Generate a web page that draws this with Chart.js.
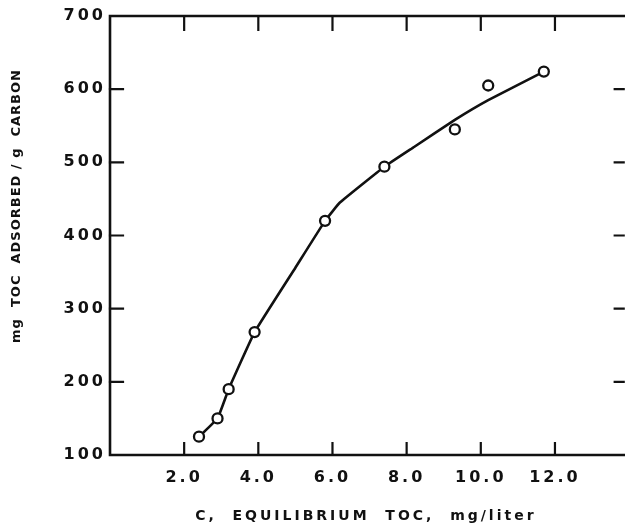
<!DOCTYPE html>
<html>
<head>
<meta charset="utf-8">
<script src="https://cdn.jsdelivr.net/npm/chart.js@4.4.1/dist/chart.umd.min.js"></script>
<style>
  html, body { margin: 0; padding: 0; background: #fff; overflow: hidden; }
  #wrap { width: 629px; height: 531px; }
</style>
</head>
<body>
<div id="wrap"><canvas id="isotherm"></canvas></div>
<script>
// Measured points: equilibrium TOC (mg/liter) vs TOC adsorbed (mg/g carbon)
const tocEquilibrium = [2.4, 2.9, 3.2, 3.9, 5.8, 7.4, 9.3, 10.2, 11.7];
const tocAdsorbed = [125, 150, 190, 268, 420, 494, 545, 605, 624];

// Hand-fitted curve through the points
const curveX = [2.4, 2.9, 3.2, 3.9, 5.0, 5.8, 6.2, 7.4, 8.2, 9.3, 10.2, 11.7];
const curveY = [125, 150, 190, 268, 356, 420, 445, 494, 521, 558, 585, 624];

// Axis ticks
const xTicks = [2, 4, 6, 8, 10, 12];
const yTicks = [100, 200, 300, 400, 500, 600, 700];

const ink = '#111';
const labelFont = { family: 'DejaVu Sans', size: 16, weight: 'bold' };

// Frame, inward tick marks and the rotated y title
const frame = {
    id: 'frame',
    beforeDraw(chart) {
        chart.ctx.letterSpacing = '3px';
    },
    afterDraw(chart) {
        const { ctx, chartArea: a, scales: { x, y } } = chart;
        ctx.save();
        ctx.strokeStyle = ink;
        ctx.lineCap = 'square';
        ctx.lineWidth = 2.6;
        ctx.beginPath();
        ctx.moveTo(a.right + 2, a.top);
        ctx.lineTo(a.left, a.top);
        ctx.lineTo(a.left, a.bottom);
        ctx.lineTo(a.right + 2, a.bottom);
        ctx.stroke();

        ctx.lineWidth = 2.2;
        ctx.beginPath();
        xTicks.forEach(v => {
            const px = x.getPixelForValue(v);
            ctx.moveTo(px, a.top);
            ctx.lineTo(px, a.top + 14);
            ctx.moveTo(px, a.bottom);
            ctx.lineTo(px, a.bottom - 12);
        });
        yTicks.slice(1, -1).forEach(v => {
            const py = y.getPixelForValue(v);
            ctx.moveTo(a.left, py);
            ctx.lineTo(a.left + 13, py);
            ctx.moveTo(a.right + 2, py);
            ctx.lineTo(a.right - 7, py);
        });
        ctx.stroke();

        ctx.fillStyle = ink;
        ctx.letterSpacing = '1px';
        ctx.font = 'bold 13px "DejaVu Sans"';
        ctx.textAlign = 'center';
        ctx.textBaseline = 'middle';
        ctx.translate(17, 206);
        ctx.rotate(-Math.PI / 2);
        ctx.fillText('mg  TOC  ADSORBED / g  CARBON', 0, 0);
        ctx.restore();
    }
};

const ctx = document.getElementById('isotherm').getContext('2d');
const chart = new Chart(ctx, {
    type: 'scatter',
    data: {
        datasets: [{
            type: 'line',
            label: 'Fitted curve',
            data: curveX.map((v, i) => ({ x: v, y: curveY[i] })),
            borderColor: ink,
            borderWidth: 2.6,
            pointRadius: 0,
            tension: 0.1,
            order: 2
        }, {
            label: 'Measured',
            data: tocEquilibrium.map((v, i) => ({ x: v, y: tocAdsorbed[i] })),
            borderColor: ink,
            backgroundColor: '#fff',
            borderWidth: 2.3,
            pointRadius: 5,
            order: 1
        }]
    },
    options: {
        responsive: true,
        maintainAspectRatio: false,
        animation: false,
        layout: { padding: { top: 16, right: 0, left: 0, bottom: 0 } },
        plugins: {
            legend: { display: false },
            tooltip: { enabled: false }
        },
        scales: {
            x: {
                type: 'linear',
                min: 0,
                max: 13.8,
                grid: { display: false, drawTicks: false },
                border: { display: false },
                afterBuildTicks: scale => {
                    scale.ticks = xTicks.map(v => ({ value: v }));
                },
                afterFit: scale => { scale.height = 76; },
                ticks: {
                    color: ink,
                    font: labelFont,
                    padding: 13,
                    maxRotation: 0,
                    callback: v => v.toFixed(1)
                },
                title: {
                    display: true,
                    text: 'C,  EQUILIBRIUM  TOC,  mg/liter',
                    color: ink,
                    font: { family: 'DejaVu Sans', size: 14, weight: 'bold' },
                    padding: { top: 0, bottom: 6 }
                }
            },
            y: {
                type: 'linear',
                min: 100,
                max: 700,
                grid: { display: false, drawTicks: false },
                border: { display: false },
                afterBuildTicks: scale => {
                    scale.ticks = yTicks.map(v => ({ value: v }));
                },
                afterFit: scale => { scale.width = 110; },
                ticks: {
                    color: ink,
                    font: labelFont,
                    padding: 4
                }
            }
        }
    },
    plugins: [frame]
});
</script>
</body>
</html>
